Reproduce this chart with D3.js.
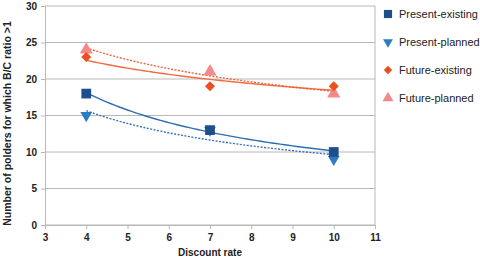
<!DOCTYPE html>
<html>
<head>
<meta charset="utf-8">
<script src="https://cdn.jsdelivr.net/npm/d3@7"></script>
<style>
  body { margin: 0; background: #fff; }
  text { font-family: "Liberation Sans", Arial, sans-serif; }
</style>
</head>
<body>
<div id="vis"></div>
<script>
const width = 480
const height = 263
const margin = { top: 6, right: 105, bottom: 38, left: 45 }

// data
const rates = [4, 7, 10]
const presentExisting = [18, 13, 10]
const presentPlanned = [15, 13, 9]
const futureExisting = [23, 19, 19]
const futurePlanned = [24, 21, 18]
const seriesNames = ["Present-existing", "Present-planned", "Future-existing", "Future-planned"]
const xTicks = [3, 4, 5, 6, 7, 8, 9, 10, 11]
const yTicks = [0, 5, 10, 15, 20, 25, 30]

const series = [
    { name: seriesNames[0], values: presentExisting, color: "#1f4e8d", trend: "#2f6db5", dash: null, symbol: d3.symbolSquare, rot: 0, size: 95 },
    { name: seriesNames[1], values: presentPlanned, color: "#2b7cc0", trend: "#3472b8", dash: "2,1.5", symbol: d3.symbolTriangle, rot: 180, size: 60 },
    { name: seriesNames[2], values: futureExisting, color: "#e8501e", trend: "#ef6a3e", dash: null, symbol: d3.symbolSquare, rot: 45, size: 50 },
    { name: seriesNames[3], values: futurePlanned, color: "#f3898b", trend: "#f0603a", dash: "2,1.5", symbol: d3.symbolTriangle, rot: 0, size: 75 }
]

var svg = d3.select("#vis")
    .append("svg")
    .attr("width", width)
    .attr("height", height)

var x = d3.scaleLinear().domain([3, 11]).range([margin.left, width - margin.right])
var y = d3.scaleLinear().domain([0, 30]).range([height - margin.bottom, margin.top])

// grid
svg.append("g")
    .selectAll("line")
    .data(yTicks)
    .join("line")
    .attr("x1", x(3)).attr("x2", x(11))
    .attr("y1", d => y(d)).attr("y2", d => y(d))
    .attr("stroke", "#b8b8b8")
    .attr("stroke-width", 1)

svg.append("line")
    .attr("x1", x(11)).attr("x2", x(11))
    .attr("y1", y(30)).attr("y2", y(0))
    .attr("stroke", "#b8b8b8")

// axes
var xAxis = svg.append("g")
    .attr("transform", `translate(0,${y(0)})`)
    .call(d3.axisBottom(x).tickValues(xTicks).tickSize(4).tickPadding(5))
var yAxis = svg.append("g")
    .attr("transform", `translate(${x(3)},0)`)
    .call(d3.axisLeft(y).tickValues(yTicks).tickSize(4).tickPadding(4))

;[xAxis, yAxis].forEach(a => {
    a.select(".domain").attr("stroke", "#b8b8b8")
    a.selectAll(".tick line").attr("stroke", "#b8b8b8")
    a.selectAll("text")
        .attr("fill", "#222")
        .attr("font-size", "10px")
        .attr("font-weight", "bold")
        .style("font-family", "'Liberation Sans', Arial, sans-serif")
})

// power trend lines (least squares on log-log)
function powerFit(xs, ys) {
    const lx = xs.map(Math.log), ly = ys.map(Math.log)
    const mx = d3.mean(lx), my = d3.mean(ly)
    const b = d3.sum(lx, (v, i) => (v - mx) * (ly[i] - my)) / d3.sum(lx, v => (v - mx) ** 2)
    const a = Math.exp(my - b * mx)
    return v => a * Math.pow(v, b)
}

var line = d3.line().x(d => x(d[0])).y(d => y(d[1]))

series.forEach(s => {
    const f = powerFit(rates, s.values)
    const pts = d3.range(4, 10.01, 0.1).map(v => [v, f(v)])
    svg.append("path")
        .attr("d", line(pts))
        .attr("fill", "none")
        .attr("stroke", s.trend)
        .attr("stroke-width", 1.4)
        .attr("stroke-dasharray", s.dash)
})

// markers, planned drawn before existing
const drawOrder = [1, 0, 3, 2]
drawOrder.forEach(k => {
    const s = series[k]
    svg.append("g")
        .selectAll("path")
        .data(rates.map((r, i) => [r, s.values[i]]))
        .join("path")
        .attr("d", d3.symbol().type(s.symbol).size(s.size))
        .attr("transform", d => `translate(${x(d[0])},${y(d[1])}) rotate(${s.rot})`)
        .attr("fill", s.color)
})

// legend
var legend = svg.append("g")
    .selectAll("g")
    .data(series)
    .join("g")
    .attr("transform", (d, i) => `translate(388,${14 + i * 28})`)

legend.append("path")
    .attr("d", d => d3.symbol().type(d.symbol).size(d.size * 0.7)())
    .attr("transform", d => `rotate(${d.rot})`)
    .attr("fill", d => d.color)

legend.append("text")
    .attr("x", 11)
    .attr("y", 4)
    .attr("font-size", "11px")
    .attr("fill", "#222")
    .text(d => d.name)

// axis titles
svg.append("text")
    .attr("x", (x(3) + x(11)) / 2)
    .attr("y", 256)
    .attr("text-anchor", "middle")
    .attr("font-size", "10px")
    .attr("font-weight", "bold")
    .attr("fill", "#222")
    .text("Discount rate")

svg.append("text")
    .attr("transform", `translate(11,${(y(0) + y(30)) / 2 + 8}) rotate(-90)`)
    .attr("text-anchor", "middle")
    .attr("font-size", "10.5px")
    .attr("font-weight", "bold")
    .attr("fill", "#222")
    .text("Number of polders for which B/C ratio >1")
</script>
</body>
</html>
